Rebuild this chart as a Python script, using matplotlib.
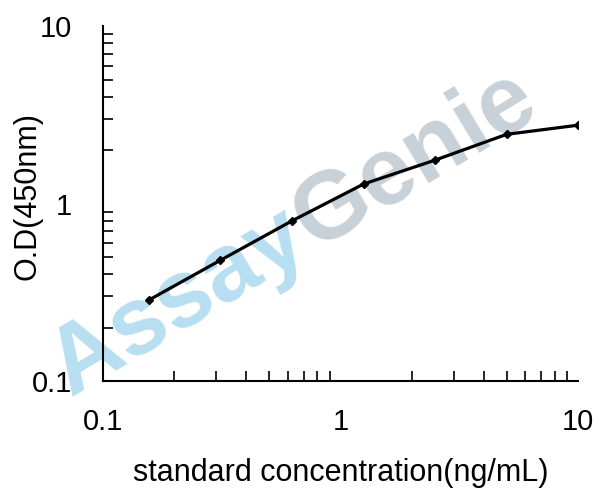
import numpy as np
import matplotlib
matplotlib.use("Agg")
import matplotlib.pyplot as plt
from matplotlib.ticker import LogLocator, NullFormatter, FixedLocator, FixedFormatter

# standard curve data
conc = [0.156, 0.3125, 0.625, 1.25, 2.5, 5, 10]
od = [0.286, 0.48, 0.80, 1.29, 1.76, 2.46, 2.77]

tick_vals = [0.1, 1, 10]
tick_labels = ["0.1", "1", "10"]

plt.rcParams["font.family"] = ["Liberation Sans", "DejaVu Sans"]

fig = plt.figure(figsize=(6.08, 4.95), dpi=100)
ax = fig.add_axes([0.169, 0.230, 0.782, 0.717])
ax.patch.set_alpha(0)
ax.set_zorder(2)

# -------------------------------------------------------------------
# watermark, drawn behind the axes
# -------------------------------------------------------------------
wm_angle = 31.0
wm_size = 69
x0, y0 = 70, 98  # baseline start in figure pixels
renderer = fig.canvas.get_renderer()
tmp = fig.text(0, 0, "Assay", fontsize=wm_size, fontweight="bold")
w_assay = tmp.get_window_extent(renderer).width
tmp.remove()
ca, sa = np.cos(np.radians(wm_angle)), np.sin(np.radians(wm_angle))
W, H = fig.bbox.width, fig.bbox.height
fig.text(x0 / W, y0 / H, "Assay", color="#b8def1", fontsize=wm_size,
         fontweight="bold", rotation=wm_angle, rotation_mode="anchor",
         ha="left", va="baseline", zorder=0)
x1, y1 = x0 + (w_assay + 2) * ca, y0 + (w_assay + 2) * sa
fig.text(x1 / W, y1 / H, "Genie", color="#c8d0d8", fontsize=wm_size,
         fontweight="bold", rotation=wm_angle, rotation_mode="anchor",
         ha="left", va="baseline", zorder=0)

ax.plot(conc, od, color="black", linewidth=2.3, marker="D", markersize=4.5,
        markerfacecolor="black", markeredgecolor="black", zorder=3)

ax.set_xscale("log")
ax.set_yscale("log")
ax.set_xlim(0.1, 10)
ax.set_ylim(0.1, 10)

for s in ["top", "right"]:
    ax.spines[s].set_visible(False)
for s in ["left", "bottom"]:
    ax.spines[s].set_linewidth(1.5)

ax.xaxis.set_major_locator(FixedLocator(tick_vals))
ax.xaxis.set_major_formatter(FixedFormatter(tick_labels))
ax.yaxis.set_major_locator(FixedLocator(tick_vals))
ax.yaxis.set_major_formatter(FixedFormatter(tick_labels))
ax.xaxis.set_minor_locator(LogLocator(base=10, subs=range(2, 10)))
ax.yaxis.set_minor_locator(LogLocator(base=10, subs=range(2, 10)))
ax.xaxis.set_minor_formatter(NullFormatter())
ax.yaxis.set_minor_formatter(NullFormatter())

ax.tick_params(which="both", direction="in", width=1.2)
ax.tick_params(which="major", length=0, labelsize=21)
ax.tick_params(which="minor", length=7)
ax.tick_params(axis="x", which="major", pad=19)
ax.tick_params(axis="y", which="major", pad=22)

ax.set_xlabel("standard concentration(ng/mL)", fontsize=22)
ax.set_ylabel("O.D(450nm)", fontsize=22)
ax.xaxis.set_label_coords(0.5, -0.217)
ax.yaxis.set_label_coords(-0.126, 0.521)

fig.savefig("out.png", dpi=100)
